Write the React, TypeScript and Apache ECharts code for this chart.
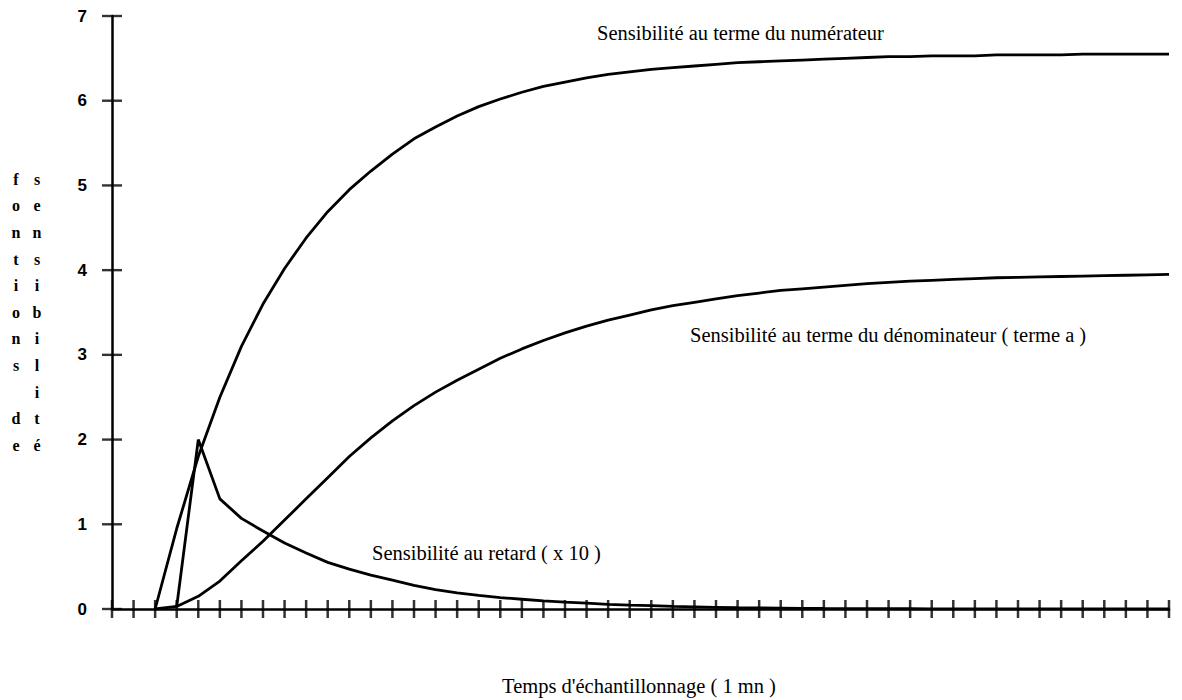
import React, { useEffect, useRef } from "react";
import * as echarts from "echarts";

const steps: number[] = Array.from({ length: 50 }, (_, i) => i);
const yTicks = [0, 1, 2, 3, 4, 5, 6, 7];

const numerator: (number | null)[] = [null, null, 0, 0.95, 1.8, 2.5, 3.1, 3.6, 4.02, 4.38, 4.69, 4.95, 5.17, 5.37, 5.55, 5.69, 5.82, 5.93, 6.02, 6.1, 6.17, 6.22, 6.27, 6.31, 6.34, 6.37, 6.39, 6.41, 6.43, 6.45, 6.46, 6.47, 6.48, 6.49, 6.5, 6.51, 6.52, 6.52, 6.53, 6.53, 6.53, 6.54, 6.54, 6.54, 6.54, 6.55, 6.55, 6.55, 6.55, 6.55];
const denominator: (number | null)[] = [null, null, 0, 0.03, 0.15, 0.33, 0.57, 0.8, 1.05, 1.3, 1.55, 1.8, 2.02, 2.22, 2.4, 2.56, 2.7, 2.83, 2.96, 3.07, 3.17, 3.26, 3.34, 3.41, 3.47, 3.53, 3.58, 3.62, 3.66, 3.7, 3.73, 3.76, 3.78, 3.8, 3.82, 3.84, 3.855, 3.87, 3.88, 3.89, 3.9, 3.91, 3.915, 3.92, 3.925, 3.93, 3.935, 3.94, 3.945, 3.95];
const retard: (number | null)[] = [null, null, null, 0.03, 2.0, 1.3, 1.07, 0.92, 0.78, 0.66, 0.55, 0.47, 0.4, 0.34, 0.28, 0.23, 0.19, 0.16, 0.135, 0.115, 0.095, 0.08, 0.07, 0.055, 0.045, 0.04, 0.03, 0.025, 0.02, 0.015, 0.012, 0.01, 0.008, 0.006, 0.005, 0.004, 0.003, 0.003, 0.002, 0.002, 0.002, 0.001, 0.001, 0.001, 0.001, 0, 0, 0, 0, 0];

const labelNum = "Sensibilité au terme du numérateur";
const labelDen = "Sensibilité au terme du dénominateur ( terme a )";
const labelRet = "Sensibilité au retard ( x 10 )";
const xTitle = "Temps d'échantillonnage ( 1 mn )";
const yTitleCol1 = ["f", "o", "n", "t", "i", "o", "n", "s", " ", "d", "e"];
const yTitleCol2 = ["s", "e", "n", "s", "i", "b", "i", "l", "i", "t", "é"];

const serif = "'Liberation Serif', 'Times New Roman', serif";

function toPairs(arr: (number | null)[]) {
  const out: [number, number][] = [];
  arr.forEach((v, i) => {
    if (v !== null) out.push([steps[i], v]);
  });
  return out;
}

export default function App() {
  const ref = useRef<HTMLDivElement>(null);
  useEffect(() => {
    if (!ref.current) return;
    const chart = echarts.init(ref.current, null, { renderer: "svg" });
    const axisLine = { show: true, onZero: false, lineStyle: { color: "#000", width: 2.5 } };
    const lineSeries = (name: string, arr: (number | null)[]) => ({
      name,
      type: "line",
      data: toPairs(arr),
      symbol: "none",
      smooth: false,
      lineStyle: { color: "#000", width: 2.8 },
      z: 5,
    });
    chart.setOption({
      animation: false,
      backgroundColor: "#fff",
      grid: { left: 112, right: 13, top: 16, bottom: 91, containLabel: false },
      xAxis: {
        type: "value",
        min: 0,
        max: steps[steps.length - 1],
        interval: 1,
        axisLine,
        axisTick: { show: false },
        axisLabel: { show: false },
        splitLine: { show: false },
      },
      yAxis: {
        type: "value",
        min: yTicks[0],
        max: yTicks[yTicks.length - 1],
        interval: 1,
        axisLine,
        axisTick: { show: false },
        axisLabel: {
          show: true,
          margin: 25,
          color: "#000",
          fontFamily: "'Liberation Sans', Arial, sans-serif",
          fontWeight: "bold",
          fontSize: 17,
        },
        splitLine: { show: false },
      },
      series: [
        {
          name: "xticks",
          type: "scatter",
          data: steps.map((k) => [k, 0]),
          symbol: "rect",
          symbolSize: [2.5, 18],
          itemStyle: { color: "#000" },
          clip: false,
          silent: true,
          z: 3,
        },
        {
          name: "yticks",
          type: "scatter",
          data: yTicks.map((v) => [0, v]),
          symbol: "rect",
          symbolSize: [20, 2.4],
          itemStyle: { color: "#000" },
          clip: false,
          silent: true,
          z: 3,
        },
        lineSeries("numerateur", numerator),
        lineSeries("denominateur", denominator),
        lineSeries("retard", retard),
      ],
      graphic: [
        { type: "text", x: 597, y: 33, style: { text: labelNum, font: `20.5px ${serif}`, fill: "#000", verticalAlign: "middle" } },
        { type: "text", x: 690, y: 335, style: { text: labelDen, font: `20.5px ${serif}`, fill: "#000", verticalAlign: "middle" } },
        { type: "text", x: 372, y: 553, style: { text: labelRet, font: `20.5px ${serif}`, fill: "#000", verticalAlign: "middle" } },
        { type: "text", x: 639, y: 686, style: { text: xTitle, font: `20.5px ${serif}`, fill: "#000", align: "center", verticalAlign: "middle" } },
        {
          type: "text",
          x: 16,
          y: 166,
          style: { text: yTitleCol1.join("\n"), font: `bold 16px ${serif}`, lineHeight: 26.6, fill: "#000", align: "center" },
        },
        {
          type: "text",
          x: 37,
          y: 166,
          style: { text: yTitleCol2.join("\n"), font: `bold 16px ${serif}`, lineHeight: 26.6, fill: "#000", align: "center" },
        },
      ],
    });
    return () => chart.dispose();
  }, []);
  return (
    <div
      ref={ref}
      style={{ position: "absolute", left: 0, top: 0, width: 1182, height: 700, background: "#fff" }}
    />
  );
}
